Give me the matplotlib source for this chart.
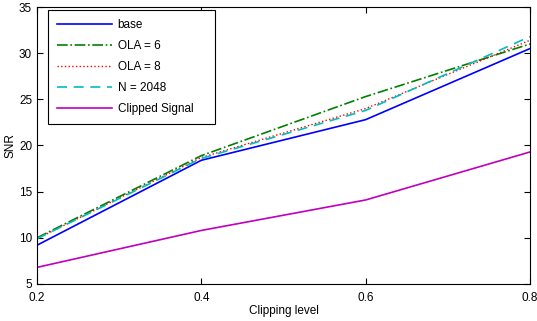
import matplotlib
matplotlib.use("Agg")
import matplotlib.pyplot as plt

plt.rcParams['font.family'] = ['Liberation Sans', 'DejaVu Sans']

clip = [0.2, 0.4, 0.6, 0.8]
base = [9.2, 18.4, 22.8, 30.5]
ola6 = [10.0, 18.9, 25.3, 31.0]
ola8 = [9.9, 18.7, 24.0, 31.4]
n2048 = [9.9, 18.6, 23.8, 31.8]
clipped = [6.8, 10.8, 14.1, 19.3]

fig = plt.figure(figsize=(5.37, 3.21), dpi=100)
ax = fig.add_axes([37 / 537, 1 - 284 / 321, 493 / 537, 277 / 321])

ax.plot(clip, base, '-', color='#0000ff', lw=1.2, label='base')
ax.plot(clip, ola6, '-.', color='#008000', lw=1.2, label='OLA = 6')
ax.plot(clip, ola8, ':', color='#ff0000', lw=1.0, label='OLA = 8')
ax.plot(clip, n2048, '--', color='#00bfbf', lw=1.2, label='N = 2048', dashes=(6, 4))
ax.plot(clip, clipped, '-', color='#bf00bf', lw=1.2, label='Clipped Signal')

ax.set_xlim(0.2, 0.8)
ax.set_ylim(5, 35)
ax.set_xticks([0.2, 0.4, 0.6, 0.8])
ax.set_yticks([5, 10, 15, 20, 25, 30, 35])
ax.tick_params(direction='in', top=True, right=True, labelsize=8.5, length=4)
ax.tick_params(axis='x', pad=6)
ax.set_xlabel('Clipping level', fontsize=8.5, labelpad=0.5)
ax.set_ylabel('SNR', fontsize=8.5, labelpad=2)

leg = ax.legend(loc='upper left', fontsize=8.5, fancybox=False, framealpha=1,
                edgecolor='black', handlelength=4.6, handletextpad=0.5,
                labelspacing=0.75, borderpad=0.8, borderaxespad=0,
                bbox_to_anchor=(0.0223, 0.5, 0.3388, 0.4892), mode='expand')
leg.get_frame().set_linewidth(0.8)

fig.savefig('out.png', dpi=100)
